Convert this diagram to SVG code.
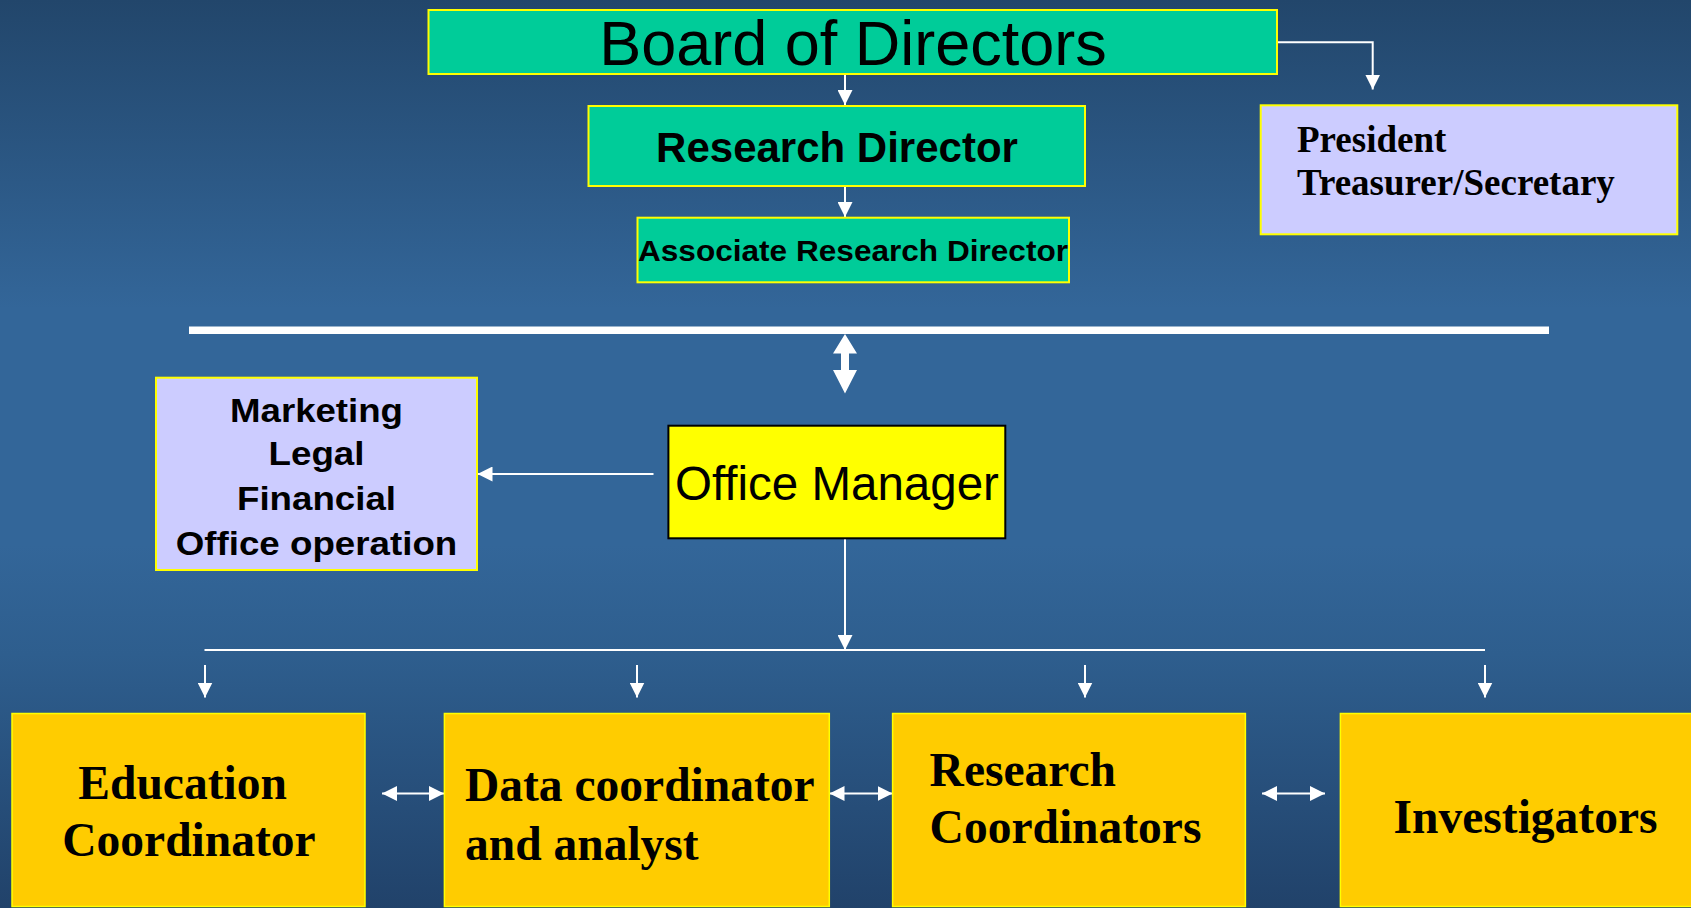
<svg xmlns="http://www.w3.org/2000/svg" width="1691" height="908" viewBox="0 0 1691 908">
<defs>
<linearGradient id="bg" x1="0" y1="0" x2="0" y2="1">
<stop offset="0" stop-color="#22466b"/>
<stop offset="0.34" stop-color="#336699"/>
<stop offset="0.6" stop-color="#336699"/>
<stop offset="0.72" stop-color="#2e5e8e"/>
<stop offset="1" stop-color="#21426a"/>
</linearGradient>
<marker id="ah" viewBox="0 0 15 15" refX="15" refY="7.5" markerWidth="15" markerHeight="15" markerUnits="userSpaceOnUse" orient="auto-start-reverse">
<path d="M0,0 L15,7.5 L0,15 z" fill="#ffffff"/>
</marker>
<style>
.green{fill:#00cc99;stroke:#ffff00;stroke-width:2}
.lav{fill:#ccccff;stroke:#ffff00;stroke-width:2}
.gold{fill:#ffcc00;stroke:#ffff00;stroke-width:1.5}
.om{fill:#ffff00;stroke:#000000;stroke-width:2}
.sans{font-family:"Liberation Sans",Arial,sans-serif;fill:#000}
.serif{font-family:"Liberation Serif","Times New Roman",serif;font-weight:bold;fill:#000}
.b{font-weight:bold}
.conn line,.conn polyline{stroke:#ffffff;stroke-width:2;fill:none}
</style>
</defs>
<rect x="0" y="0" width="1691" height="908" fill="url(#bg)"/>

<g id="connectors" class="conn">
<line x1="845" y1="74" x2="845" y2="105" marker-end="url(#ah)"/>
<line x1="845" y1="186" x2="845" y2="217" marker-end="url(#ah)"/>
<polyline points="1277,42.3 1372.7,42.3 1372.7,89.5" marker-end="url(#ah)"/>
<rect x="189" y="326.5" width="1360" height="7.5" fill="#ffffff" stroke="none"/>
<polygon points="845,334 857,353.5 849,353.5 849,370 857,370 845,393.5 833,370 841,370 841,353.5 833,353.5" fill="#ffffff" stroke="none"/>
<line x1="653.5" y1="474" x2="477.5" y2="474" marker-end="url(#ah)"/>
<line x1="845" y1="538.5" x2="845" y2="650" marker-end="url(#ah)"/>
<line x1="204.5" y1="650" x2="1485" y2="650"/>
<line x1="205" y1="665" x2="205" y2="697.5" marker-end="url(#ah)"/>
<line x1="637" y1="665" x2="637" y2="697.5" marker-end="url(#ah)"/>
<line x1="1085" y1="665" x2="1085" y2="697.5" marker-end="url(#ah)"/>
<line x1="1485" y1="665" x2="1485" y2="697.5" marker-end="url(#ah)"/>
<line x1="382" y1="793.5" x2="444" y2="793.5" marker-start="url(#ah)" marker-end="url(#ah)" stroke-width="2.5"/>
<line x1="829.5" y1="793.5" x2="892.5" y2="793.5" marker-start="url(#ah)" marker-end="url(#ah)" stroke-width="2.5"/>
<line x1="1262" y1="793.5" x2="1325" y2="793.5" marker-start="url(#ah)" marker-end="url(#ah)" stroke-width="2.5"/>
</g>

<g id="board">
<rect class="green" x="428.5" y="10" width="848.5" height="64"/>
<text class="sans" x="853" y="65" font-size="63" text-anchor="middle">Board of Directors</text>
</g>

<g id="research-director">
<rect class="green" x="588.5" y="106" width="496.5" height="80"/>
<text class="sans b" x="837" y="161.7" font-size="42" text-anchor="middle">Research Director</text>
</g>

<g id="associate">
<rect class="green" x="637.5" y="217.7" width="431.5" height="64.6"/>
<text class="sans b" x="853" y="261" font-size="29.5" text-anchor="middle" textLength="430" lengthAdjust="spacingAndGlyphs">Associate Research Director</text>
</g>

<g id="president">
<rect class="lav" x="1260.7" y="105.3" width="416.6" height="129"/>
<text class="serif" x="1297" y="151.7" font-size="37">President</text>
<text class="serif" x="1297" y="195" font-size="37">Treasurer/Secretary</text>
</g>

<g id="support">
<rect class="lav" x="156" y="377.7" width="321" height="192.3"/>
<text class="sans b" x="316.5" y="421.7" font-size="33.5" text-anchor="middle" textLength="173" lengthAdjust="spacingAndGlyphs">Marketing</text>
<text class="sans b" x="316.5" y="465" font-size="33.5" text-anchor="middle" textLength="96" lengthAdjust="spacingAndGlyphs">Legal</text>
<text class="sans b" x="316.5" y="510" font-size="33.5" text-anchor="middle" textLength="159" lengthAdjust="spacingAndGlyphs">Financial</text>
<text class="sans b" x="316.5" y="555" font-size="33.5" text-anchor="middle" textLength="281.5" lengthAdjust="spacingAndGlyphs">Office operation</text>
</g>

<g id="office-manager">
<rect class="om" x="668.4" y="425.7" width="336.9" height="112.6"/>
<text class="sans" x="837" y="500" font-size="47.5" text-anchor="middle">Office Manager</text>
</g>

<g id="education">
<rect class="gold" x="12" y="713.5" width="353" height="193"/>
<text class="serif" x="78.3" y="799.3" font-size="47.5">Education</text>
<text class="serif" x="62.3" y="856" font-size="47.5">Coordinator</text>
</g>

<g id="data">
<rect class="gold" x="444.4" y="713.5" width="384.9" height="193"/>
<text class="serif" x="465" y="801" font-size="47.5">Data coordinator</text>
<text class="serif" x="465" y="860" font-size="47.5">and analyst</text>
</g>

<g id="research-coordinators">
<rect class="gold" x="892.6" y="713.5" width="352.8" height="193"/>
<text class="serif" x="929.6" y="785.7" font-size="47.5">Research</text>
<text class="serif" x="929.6" y="843.3" font-size="47.5">Coordinators</text>
</g>

<g id="investigators">
<rect class="gold" x="1340.4" y="713.5" width="370" height="193"/>
<text class="serif" x="1393.6" y="833.3" font-size="47.5">Investigators</text>
</g>
</svg>
